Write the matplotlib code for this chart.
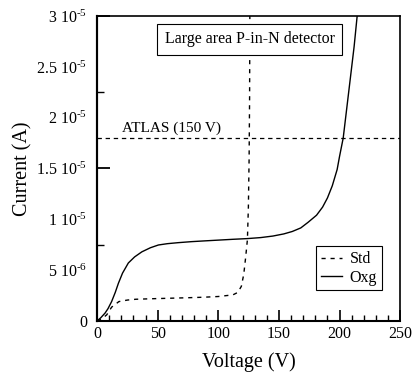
import numpy as np
import matplotlib.pyplot as plt

plt.rcParams['font.family'] = 'Liberation Serif'
plt.rcParams['mathtext.fontset'] = 'custom'
plt.rcParams['mathtext.rm'] = 'Liberation Serif'
plt.rcParams['mathtext.default'] = 'rm'

# Std detector: I-V curve (V, A)
std_v = [0, 4, 8, 12, 18, 25, 32, 45, 60, 75, 88, 100, 112, 116, 119, 121,
         122.5, 124, 124.8, 125.4, 125.8, 126]
std_i = np.array([0, 0.2, 0.6, 1.35, 1.9, 2.05, 2.13, 2.18, 2.23, 2.28, 2.33, 2.4,
                  2.56, 2.8, 3.4, 4.6, 6.2, 8.0, 11.2, 16, 22, 30]) * 1e-6

# Oxygenated detector
oxg_v = [0, 3, 6.6, 9, 12, 15, 17.6, 21, 25.8, 31, 37, 44, 50.6, 58, 67, 78, 88,
         100, 112, 124, 135, 145, 154, 161, 168, 174, 181, 186, 190, 194, 198,
         200, 203, 206, 209, 212, 214.5]
oxg_i = np.array([0, 0.3, 0.77, 1.2, 1.9, 2.8, 3.7, 4.7, 5.7, 6.3, 6.8, 7.2, 7.47,
                  7.6, 7.7, 7.8, 7.87, 7.95, 8.03, 8.1, 8.2, 8.35, 8.56, 8.8, 9.15,
                  9.7, 10.4, 11.2, 12.1, 13.3, 14.9, 16.2, 18, 21, 24, 27, 30]) * 1e-6

atlas_i = 1.8e-5
ytick_vals = [0, 5e-6, 1e-5, 1.5e-5, 2e-5, 2.5e-5, 3e-5]
ytick_labels = ['0', '5 10$^{\u20106}$', '1 10$^{\u20105}$', '1.5 10$^{\u20105}$',
                '2 10$^{\u20105}$', '2.5 10$^{\u20105}$', '3 10$^{\u20105}$']

fig = plt.figure(figsize=(4.13, 3.74), dpi=100)
ax = fig.add_axes([0.235, 0.142, 0.734, 0.815])

ax.plot(std_v, std_i, color='k', lw=1.0, dashes=(3, 3.5), label='Std')
ax.plot(oxg_v, oxg_i, color='k', lw=1.0, label='Oxg')
ax.axhline(atlas_i, color='k', lw=0.9, dashes=(3.5, 3))
ax.text(20.5, 1.83e-5, 'ATLAS (150 V)', fontsize=11, va='bottom', ha='left')

ax.text(125.8, 2.77e-5, 'Large area P-in-N detector', fontsize=11.5,
        ha='center', va='center', zorder=5,
        bbox=dict(boxstyle='square,pad=0.45', fc='white', ec='k', lw=0.8))

ax.set_xlim(0, 250)
ax.set_ylim(0, 3e-5)
ax.set_xticks(np.arange(0, 251, 50))
ax.set_xticks(np.arange(0, 251, 10), minor=True)
ax.tick_params(axis='x', which='major', direction='in', length=8, width=1.2,
               labelsize=11.5, pad=4)
ax.tick_params(axis='x', which='minor', direction='in', length=4, width=1.0)
ax.set_yticks(ytick_vals, ytick_labels)
ax.tick_params(axis='y', which='major', length=0, labelsize=11.5, pad=7)

ay = ax.secondary_yaxis('left')
ay.set_yticks([0, 1.5e-5, 3e-5])
ay.set_yticks([7.5e-6, 2.25e-5], minor=True)
ay.tick_params(which='major', direction='in', length=9.5, width=1.3, labelleft=False)
ay.tick_params(which='minor', direction='in', length=5, width=1.0)
ay.spines['left'].set_linewidth(1.5)

for s in ['left', 'bottom']:
    ax.spines[s].set_linewidth(1.5)
for s in ['top', 'right']:
    ax.spines[s].set_linewidth(1.2)

ax.set_xlabel('Voltage (V)', fontsize=14.5, labelpad=7)
ax.set_ylabel('Current (A)', fontsize=14.5)
ax.yaxis.set_label_coords(-0.212, 0.5)

leg = ax.legend(loc='lower right', bbox_to_anchor=(0.94, 0.10), borderaxespad=0,
                fontsize=11.5, handlelength=1.3, handletextpad=0.5,
                fancybox=False, framealpha=1, edgecolor='k',
                borderpad=0.3, labelspacing=0.15)
leg.get_frame().set_linewidth(0.8)

fig.savefig('out.png', dpi=100)
